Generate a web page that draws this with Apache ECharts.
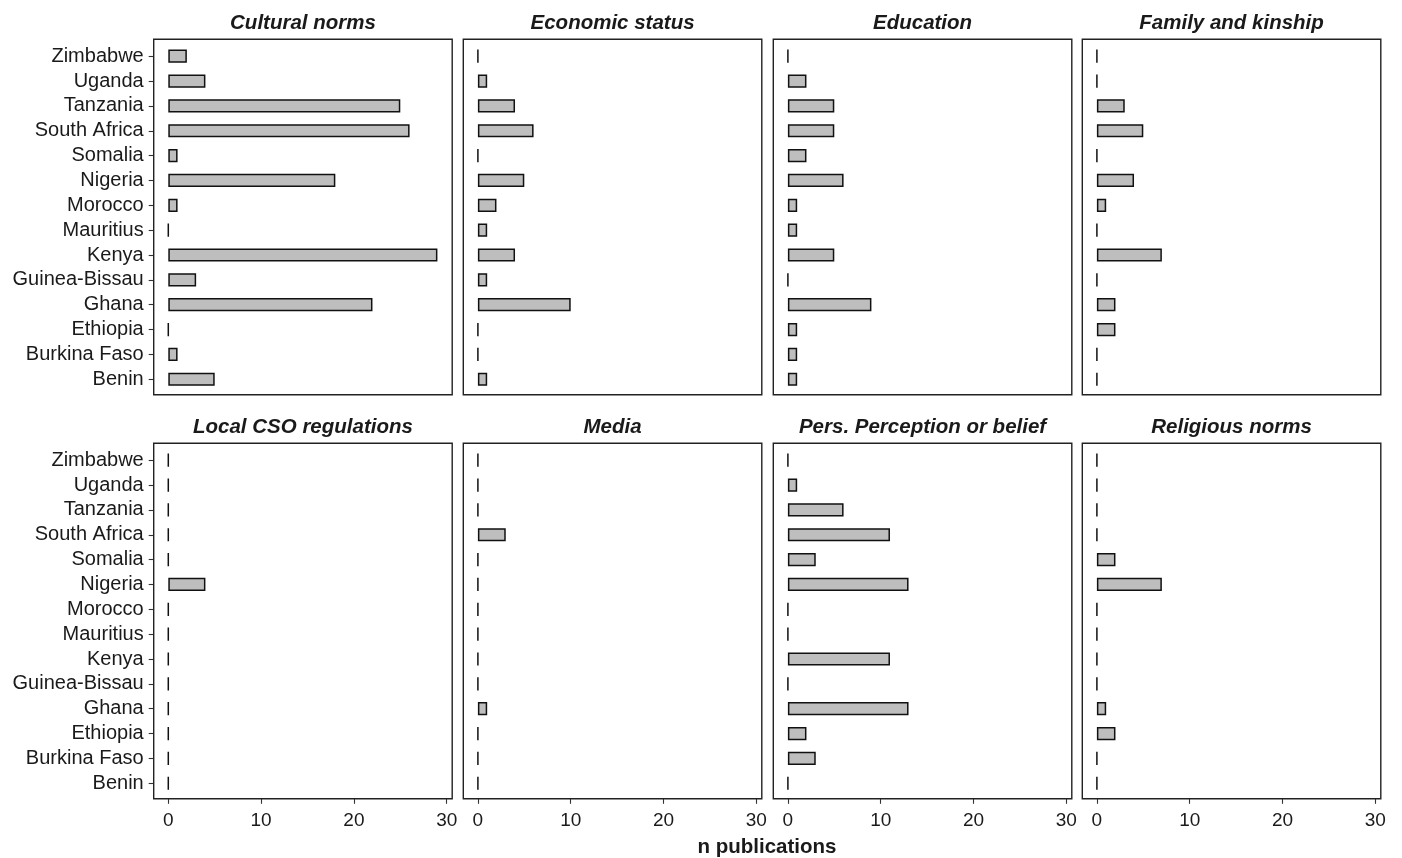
<!DOCTYPE html>
<html>
<head>
<meta charset="utf-8">
<script src="https://cdn.jsdelivr.net/npm/echarts@6/dist/echarts.min.js"></script>
<style>
  html, body { margin: 0; padding: 0; background: #fff; }
  #chart { width: 1402px; height: 858px; }
</style>
</head>
<body>
<div id="chart"></div>
<script>
// countries, bottom to top (Benin at the bottom like the original)
const countries = ["Benin", "Burkina Faso", "Ethiopia", "Ghana", "Guinea-Bissau", "Kenya", "Mauritius",
  "Morocco", "Nigeria", "Somalia", "South Africa", "Tanzania", "Uganda", "Zimbabwe"];

const panelTitles = ["Cultural norms", "Economic status", "Education", "Family and kinship",
  "Local CSO regulations", "Media", "Pers. Perception or belief", "Religious norms"];

// n publications per country, same order as countries
const culturalNorms   = [5, 1, 0, 22, 3, 29, 0, 1, 18, 1, 26, 25, 4, 2];
const economicStatus  = [1, 0, 0, 10, 1, 4, 1, 2, 5, 0, 6, 4, 1, 0];
const education       = [1, 1, 1, 9, 0, 5, 1, 1, 6, 2, 5, 5, 2, 0];
const familyKinship   = [0, 0, 2, 2, 0, 7, 0, 1, 4, 0, 5, 3, 0, 0];
const localCso        = [0, 0, 0, 0, 0, 0, 0, 0, 4, 0, 0, 0, 0, 0];
const media           = [0, 0, 0, 1, 0, 0, 0, 0, 0, 0, 3, 0, 0, 0];
const persPerception  = [0, 3, 2, 13, 0, 11, 0, 0, 13, 3, 11, 6, 1, 0];
const religiousNorms  = [0, 0, 2, 1, 0, 0, 0, 0, 7, 2, 0, 0, 0, 0];

const xTicks = [0, 10, 20, 30];

const panelData = [culturalNorms, economicStatus, education, familyKinship,
  localCso, media, persPerception, religiousNorms];

// layout of the facet boxes
const frameLeft = [153.7, 463.3, 773.3, 1082.3];
const frameTop = [39.3, 443.3];
const frameW = 298.5, frameH = 355.5;
const pxPerUnit = 9.28;
const zeroOffset = 14.6;       // from box left to x = 0
const band = 24.85;            // one category step
const firstCat = 16.9;         // box top to centre of top category

const font = "'Liberation Sans', Arial, sans-serif";
const ink = "#1a1a1a";

const xMin = -zeroOffset / pxPerUnit;
const xMax = (frameW - zeroOffset) / pxPerUnit;

let grids = [], xAxes = [], yAxes = [], series = [], titles = [], frames = [];

panelData.forEach((vals, i) => {
  const col = i % 4, row = Math.floor(i / 4);
  const fl = frameLeft[col], ft = frameTop[row];
  const gTop = ft + firstCat - band / 2;
  const gH = band * countries.length;
  const bottomGap = ft + frameH - (gTop + gH);

  grids.push({ left: fl, top: gTop, width: frameW, height: gH, containLabel: false });

  xAxes.push({
    gridIndex: i, type: "value", min: xMin, max: xMax,
    offset: bottomGap,
    axisLine: { show: false, onZero: false },
    splitLine: { show: false },
    axisTick: { show: row === 1, length: 5, customValues: xTicks, lineStyle: { color: "#333", width: 1.1 } },
    axisLabel: { show: row === 1, margin: 12, fontSize: 19, color: ink, fontFamily: font, customValues: xTicks }
  });

  yAxes.push({
    gridIndex: i, type: "category", data: countries,
    axisLine: { show: false, onZero: false },
    axisTick: { show: col === 0, length: 5, interval: 0, alignWithLabel: true, lineStyle: { color: "#333", width: 1.1 } },
    axisLabel: { show: col === 0, interval: 0, margin: 10, fontSize: 20, color: ink, fontFamily: font }
  });

  series.push({
    type: "bar", xAxisIndex: i, yAxisIndex: i,
    data: vals, barWidth: "53%",
    itemStyle: { color: "#bebebe", borderColor: "#111", borderWidth: 1.5 },
    silent: true
  });

  titles.push({
    text: panelTitles[i], left: fl + frameW / 2, top: ft - 25.5, textAlign: "center", padding: 0,
    textStyle: { fontSize: 20.5, fontWeight: "bold", fontStyle: "italic", color: ink, fontFamily: font }
  });

  frames.push({
    type: "rect", z: 10, silent: true,
    shape: { x: fl, y: ft, width: frameW, height: frameH },
    style: { fill: "none", stroke: "#222", lineWidth: 1.4 }
  });
});

titles.push({
  text: "n publications", left: 767, top: 837, textAlign: "center", padding: 0,
  textStyle: { fontSize: 20.5, fontWeight: "bold", color: ink, fontFamily: font }
});

const chart = echarts.init(document.getElementById("chart"));
chart.setOption({
  animation: false,
  backgroundColor: "#fff",
  title: titles,
  grid: grids,
  xAxis: xAxes,
  yAxis: yAxes,
  series: series,
  graphic: frames
});
</script>
</body>
</html>
